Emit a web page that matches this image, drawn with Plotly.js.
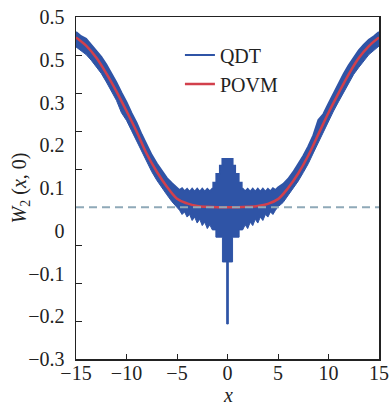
<!DOCTYPE html>
<html><head><meta charset="utf-8">
<script src="https://cdn.plot.ly/plotly-3.0.1.min.js"></script>
<style>html,body{margin:0;padding:0;background:#fff}#chart{width:390px;height:405px}</style>
</head><body><div id="chart"></div>
<script>
// POVM (smooth curve)
var povmX = [-15,-14,-13,-12,-11,-10,-9,-8,-7,-6,-5,-4,-3,-2,-1,0,1,2,3,4,5,6,7,8,9,10,11,12,13,14,15];
var povmY = [0.452,0.433,0.405,0.368,0.326,0.28,0.232,0.18,0.138,0.103,0.075,0.064,0.058,0.056,0.055,0.055,0.055,0.056,0.058,0.063,0.074,0.1,0.134,0.176,0.226,0.276,0.322,0.366,0.404,0.432,0.452];

// QDT: upper and lower envelope of the oscillating band
var qdtUpperX = [-15,-14.5,-14,-13.5,-13,-12.5,-12,-11.5,-11,-10.5,-10,-9.5,-9,-8.5,-8,-7.5,-7,-6.5,-6,-5.5,-5,
  -4.75,-4.5,-4.25,-4,-3.75,-3.5,-3.25,-3,-2.75,-2.5,-2.25,-2,-1.75,-1.5,
  -1.4,-1.4,-1.1,-1.1,-0.75,-0.75,-0.5,-0.5,0.5,0.5,0.75,0.75,1.1,1.1,1.4,1.4,
  1.5,1.75,2,2.25,2.5,2.75,3,3.25,3.5,3.75,4,4.25,4.5,4.75,
  5,5.5,6,6.5,7,7.5,8,8.5,9,9.5,10,10.5,11,11.5,12,12.5,13,13.5,14,14.5,15];
var qdtUpper = [0.465,0.455,0.449,0.435,0.423,0.407,0.389,0.369,0.347,0.323,0.301,0.275,0.252,0.225,0.201,0.177,0.157,0.139,0.123,0.111,0.101,
  0.095,0.099,0.092,0.098,0.091,0.098,0.091,0.098,0.091,0.098,0.091,0.098,0.092,0.098,
  0.098,0.112,0.112,0.133,0.133,0.152,0.152,0.168,0.168,0.152,0.152,0.133,0.133,0.112,0.112,0.098,
  0.098,0.092,0.098,0.091,0.098,0.091,0.098,0.091,0.098,0.091,0.098,0.092,0.099,0.095,
  0.101,0.109,0.121,0.137,0.155,0.175,0.197,0.223,0.259,0.273,0.297,0.321,0.345,0.367,0.387,0.405,0.422,0.435,0.447,0.455,0.465];

var qdtLowerX = [-15,-14.5,-14,-13.5,-13,-12.5,-12,-11.5,-11,-10.5,-10,-9.5,-9,-8.5,-8,-7.5,-7,-6.5,-6,-5.5,-5,
  -4.75,-4.5,-4.25,-4,-3.75,-3.5,-3.25,-3,-2.75,-2.5,-2.25,-2,-1.75,-1.5,
  -1.15,-1.15,-0.5,-0.5,-0.08,-0.08,0.08,0.08,0.5,0.5,1.15,1.15,
  1.5,1.75,2,2.25,2.5,2.75,3,3.25,3.5,3.75,4,4.25,4.5,4.75,
  5,5.5,6,6.5,7,7.5,8,8.5,9,9.5,10,10.5,11,11.5,12,12.5,13,13.5,14,14.5,15];
var qdtLower = [0.43,0.422,0.412,0.399,0.384,0.368,0.348,0.328,0.305,0.276,0.258,0.234,0.21,0.185,0.16,0.138,0.118,0.1,0.084,0.068,0.056,
  0.048,0.038,0.044,0.032,0.038,0.024,0.032,0.018,0.027,0.012,0.02,0.005,0.014,0.002,
  0.002,-0.015,-0.015,-0.073,-0.073,-0.218,-0.218,-0.073,-0.073,-0.015,-0.015,0.002,
  0.002,0.014,0.005,0.02,0.012,0.027,0.018,0.032,0.024,0.038,0.032,0.044,0.038,0.048,
  0.056,0.066,0.082,0.098,0.116,0.136,0.157,0.182,0.207,0.232,0.256,0.28,0.302,0.324,0.346,0.366,0.382,0.398,0.412,0.422,0.432];

var refLevel = 0.055;
var yTickVals = [-0.3,-0.2,-0.1,0,0.1,0.2,0.3,0.4,0.5];
var yTickText = ['\u22120.3','\u22120.2','\u22120.1','0','0.1','0.2','0.3','0.5','0.5'];
var xTickVals = [-15,-10,-5,0,5,10,15];
var xTickText = ['\u221215','\u221210','\u22125','0','5','10','15'];
var xTitle = '<i>x</i>';
var yTitle = '<i>W</i><sub>2</sub> (<i>x</i>, 0)';

var blueColor = '#2f54a6', redColor = '#d2404c';
var serifFamily = 'Liberation Serif';
function fnt(size) { return {family: serifFamily, size: size, color: '#222'}; }

var traces = [
  {x: qdtUpperX, y: qdtUpper, mode: 'lines', name: 'QDT', legendgroup: 'qdt',
   line: {color: blueColor, width: 2}},
  {x: qdtLowerX, y: qdtLower, mode: 'lines', name: 'QDT', legendgroup: 'qdt', showlegend: false,
   fill: 'tonexty', fillcolor: blueColor, line: {color: blueColor, width: 1}},
  {x: povmX, y: povmY, mode: 'lines', name: 'POVM', line: {color: redColor, width: 2.5, shape: 'spline', smoothing: 1}},
  {x: [], y: [], yaxis: 'y2', showlegend: false, hoverinfo: 'skip'}
];

var layout = {
  width: 390, height: 405,
  margin: {l: 76, r: 11, t: 17, b: 46},
  paper_bgcolor: '#fff', plot_bgcolor: '#fff',
  font: fnt(20),
  showlegend: true,
  legend: {x: 0.343, y: 0.946, xanchor: 'left', yanchor: 'top', bgcolor: 'rgba(0,0,0,0)',
           font: fnt(20), tracegroupgap: 0},
  xaxis: {range: [-15, 15], tickvals: xTickVals, ticktext: xTickText, ticks: 'inside', ticklen: 5,
          tickfont: fnt(20), ticklabelstandoff: -5,
          tickcolor: '#222', showline: true, linecolor: '#222', linewidth: 1.5, mirror: true,
          showgrid: false, zeroline: false},
  yaxis: {range: [-0.3, 0.5], tickvals: yTickVals, ticktext: yTickText, ticks: '',
          tickfont: fnt(20),
          showline: true, linecolor: '#222', linewidth: 1.5, mirror: true,
          showgrid: false, zeroline: false, ticklabelstandoff: 6,
          title: {text: yTitle, font: fnt(20)}},
  yaxis2: {overlaying: 'y', anchor: 'x', side: 'left', range: [0, 9], tickvals: [1,2,3,4,5,6,7,8],
           ticks: 'inside', ticklen: 6, tickcolor: '#222', showticklabels: false,
           showline: false, showgrid: false, zeroline: false},
  annotations: [{xref: 'paper', yref: 'paper', x: 0.5, y: -0.142, xanchor: 'center', yanchor: 'bottom',
                 text: xTitle, showarrow: false, font: fnt(20)}],
  shapes: [{type: 'line', xref: 'paper', x0: 0, x1: 1, yref: 'y', y0: refLevel, y1: refLevel,
            line: {color: '#8fa9b8', width: 2, dash: '8px,5px'}, layer: 'above'}]
};

Plotly.newPlot('chart', traces, layout, {staticPlot: true, displayModeBar: false});
</script></body></html>
